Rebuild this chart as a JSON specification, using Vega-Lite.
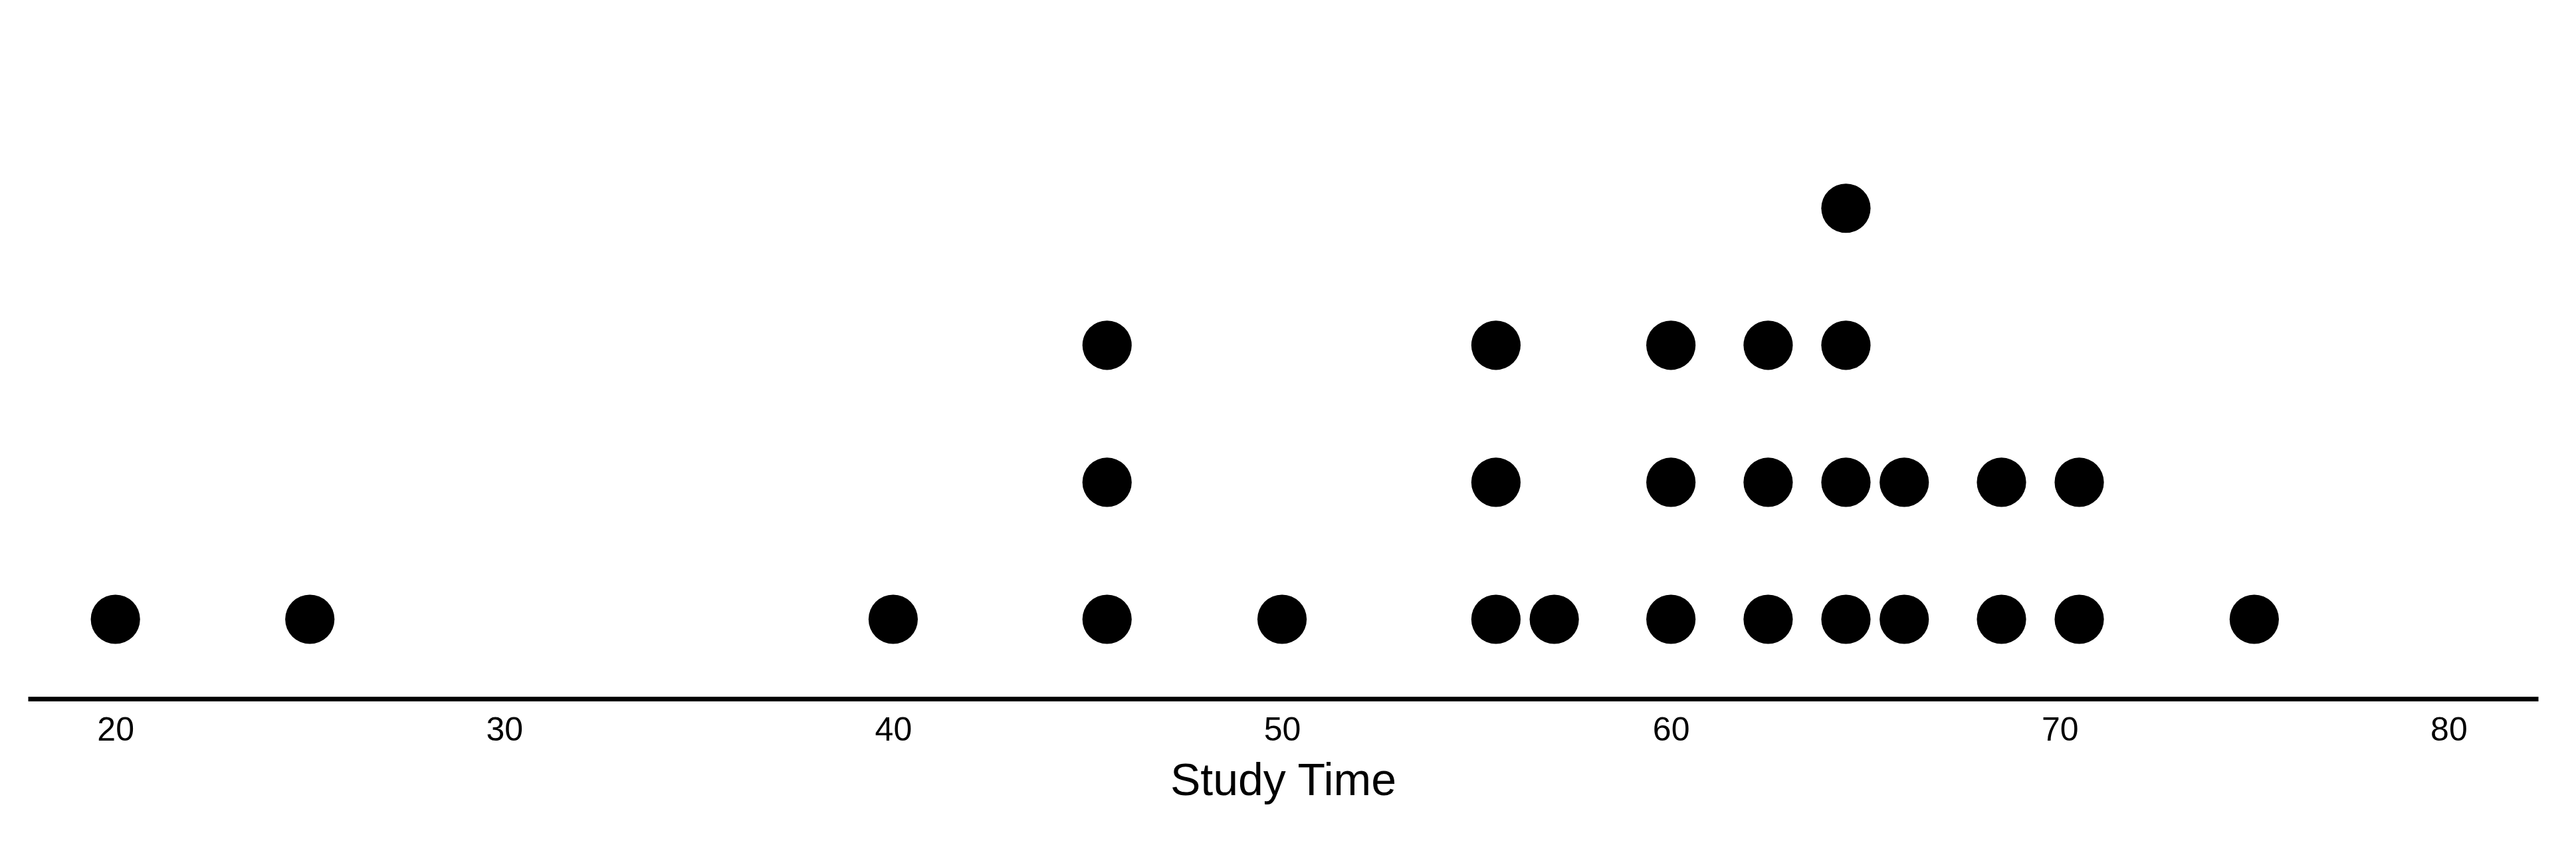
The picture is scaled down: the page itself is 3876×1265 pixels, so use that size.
{
  "$schema": "https://vega.github.io/schema/vega-lite/v6.json",
  "autosize": "none",
  "width": 3777,
  "height": 1051,
  "padding": {"left": 42, "top": 0, "right": 57, "bottom": 214},
  "data": {
    "values": [
      {"time": 20, "level": 1},
      {"time": 25, "level": 1},
      {"time": 40, "level": 1},
      {"time": 45.5, "level": 1}, {"time": 45.5, "level": 2}, {"time": 45.5, "level": 3},
      {"time": 50, "level": 1},
      {"time": 55.5, "level": 1}, {"time": 55.5, "level": 2}, {"time": 55.5, "level": 3},
      {"time": 57, "level": 1},
      {"time": 60, "level": 1}, {"time": 60, "level": 2}, {"time": 60, "level": 3},
      {"time": 62.5, "level": 1}, {"time": 62.5, "level": 2}, {"time": 62.5, "level": 3},
      {"time": 64.5, "level": 1}, {"time": 64.5, "level": 2}, {"time": 64.5, "level": 3}, {"time": 64.5, "level": 4},
      {"time": 66, "level": 1}, {"time": 66, "level": 2},
      {"time": 68.5, "level": 1}, {"time": 68.5, "level": 2},
      {"time": 70.5, "level": 1}, {"time": 70.5, "level": 2},
      {"time": 75, "level": 1}
    ]
  },
  "mark": {"type": "circle", "color": "black", "opacity": 1, "size": 5500},
  "encoding": {
    "x": {
      "field": "time", "type": "quantitative", "title": "Study Time",
      "scale": {"domain": [17.75, 82.3], "nice": false, "zero": false},
      "axis": {
        "values": [20, 30, 40, 50, 60, 70, 80], "grid": false, "ticks": false,
        "domainColor": "black", "domainWidth": 7,
        "labelFont": "Liberation Sans", "labelFontSize": 50, "labelColor": "black", "labelPadding": 22,
        "titleFont": "Liberation Sans", "titleFontSize": 68, "titleFontWeight": "normal", "titleColor": "black", "titlePadding": 18
      }
    },
    "y": {
      "field": "level", "type": "quantitative",
      "scale": {"domain": [0.42, 5.52], "nice": false, "zero": false},
      "axis": null
    }
  },
  "config": {"view": {"stroke": null}}
}
